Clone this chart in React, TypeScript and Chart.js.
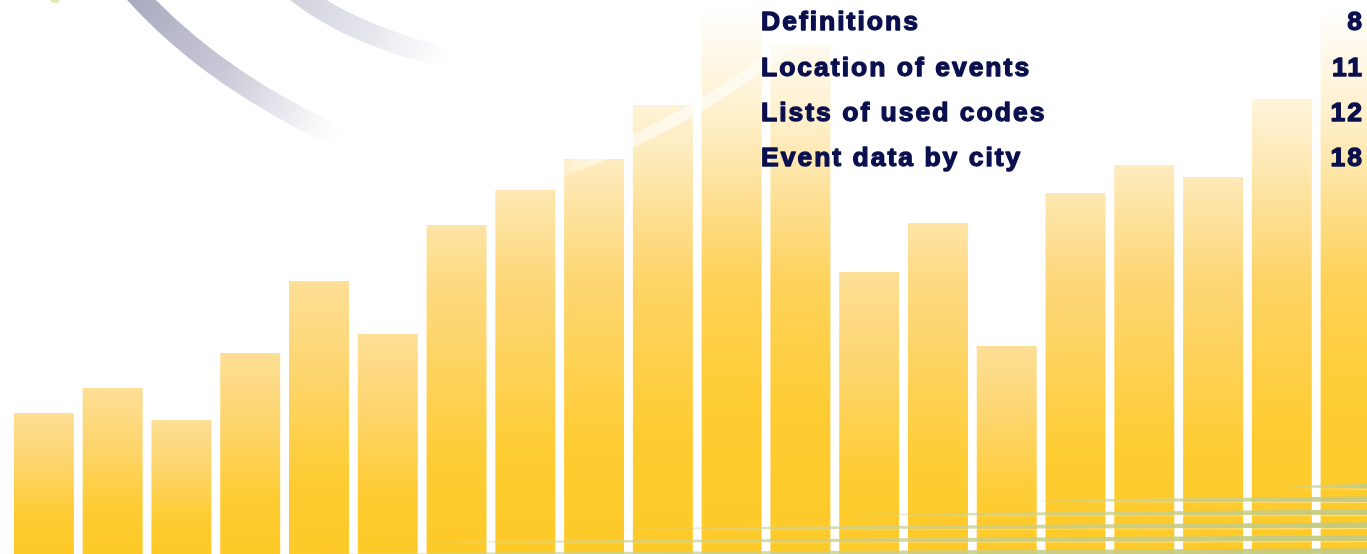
import React, { useEffect, useRef } from "react";
import { Chart, registerables } from "chart.js";

Chart.register(...registerables);

const categories = [
  "1", "2", "3", "4", "5", "6", "7", "8", "9", "10",
  "11", "12", "13", "14", "15", "16", "17", "18", "19", "20",
];
const barHeights = [
  141, 166, 134, 201, 273, 220, 329, 364, 395, 449,
  539, 509, 282, 331, 208, 361, 389, 377, 455, 539,
];
const tocTitles = ["Definitions", "Location of events", "Lists of used codes", "Event data by city"];
const tocPages = ["8", "11", "12", "18"];

const CANVAS_W = 1385;
const CANVAS_H = 554;

function drawBand(
  ctx: CanvasRenderingContext2D,
  p0: [number, number],
  c: [number, number],
  p1: [number, number],
  width: number,
  stops: [number, string][]
) {
  const g = ctx.createLinearGradient(p0[0], p0[1], p1[0], p1[1]);
  stops.forEach(([o, col]) => g.addColorStop(o, col));
  ctx.save();
  ctx.strokeStyle = g;
  ctx.lineWidth = width;
  ctx.lineCap = "butt";
  ctx.beginPath();
  ctx.moveTo(p0[0], p0[1]);
  ctx.quadraticCurveTo(c[0], c[1], p1[0], p1[1]);
  ctx.stroke();
  ctx.restore();
}

const decorPlugin = {
  id: "decor",
  afterDatasetsDraw(chart: any) {
    const ctx: CanvasRenderingContext2D = chart.ctx;
    // white fade over the upper region
    ctx.save();
    const wg = ctx.createLinearGradient(0, 0, 0, 280);
    wg.addColorStop(0, "rgba(255,255,255,1)");
    wg.addColorStop(0.1, "rgba(255,255,255,0.9)");
    wg.addColorStop(0.4, "rgba(255,255,255,0.6)");
    wg.addColorStop(0.75, "rgba(255,255,255,0.2)");
    wg.addColorStop(1, "rgba(255,255,255,0)");
    ctx.fillStyle = wg;
    ctx.fillRect(0, 0, CANVAS_W, 280);
    ctx.restore();

    // grey arcs
    drawBand(ctx, [134, -8], [213, 80], [345, 140], 21, [
      [0, "rgba(170,170,192,1)"],
      [0.45, "rgba(196,196,212,0.95)"],
      [0.8, "rgba(234,234,240,0.8)"],
      [1, "rgba(255,255,255,0)"],
    ]);
    drawBand(ctx, [297, -8], [350, 35], [455, 60], 21, [
      [0, "rgba(210,210,222,1)"],
      [0.5, "rgba(228,228,236,0.9)"],
      [0.85, "rgba(246,246,249,0.6)"],
      [1, "rgba(255,255,255,0)"],
    ]);
    // small yellow-green spot
    ctx.save();
    ctx.fillStyle = "rgba(225,232,175,0.9)";
    ctx.beginPath();
    ctx.ellipse(55, 0, 5, 3, 0, 0, Math.PI * 2);
    ctx.fill();
    ctx.restore();

    // white translucent arc across tall bars
    drawBand(ctx, [540, 178], [685, 130], [800, 35], 12, [
      [0, "rgba(255,255,255,0)"],
      [0.2, "rgba(255,255,255,0.55)"],
      [0.7, "rgba(255,255,255,0.6)"],
      [1, "rgba(255,255,255,0.3)"],
    ]);

    // green lines near bottom right
    const lines: [number, number, number][] = [
      // [startX, yAtRight, yAtStart]
      [270, 551, 554],
      [390, 538, 542],
      [610, 525, 528.5],
      [850, 512, 514.5],
      [1020, 499, 500.5],
      [1285, 486, 486.5],
    ];
    const right = CANVAS_W;
    lines.forEach(([sx, yr, ys]) => {
      ctx.save();
      const g = ctx.createLinearGradient(sx, 0, right, 0);
      g.addColorStop(0, "rgba(205,210,150,0)");
      g.addColorStop(0.2, "rgba(205,210,150,0.7)");
      g.addColorStop(1, "rgba(196,202,126,1)");
      ctx.fillStyle = g;
      const tr = 5.5;
      ctx.beginPath();
      ctx.moveTo(sx, ys - 0.5);
      ctx.lineTo(right, yr - tr / 2);
      ctx.lineTo(right, yr + tr / 2);
      ctx.lineTo(sx, ys + 1);
      ctx.closePath();
      ctx.fill();
      // thin white highlight beneath
      const g2 = ctx.createLinearGradient(sx, 0, right, 0);
      g2.addColorStop(0, "rgba(255,255,255,0)");
      g2.addColorStop(1, "rgba(255,255,255,0.45)");
      ctx.strokeStyle = g2;
      ctx.lineWidth = 1;
      ctx.beginPath();
      ctx.moveTo(sx, ys + 1.8);
      ctx.lineTo(right, yr + tr / 2 + 0.8);
      ctx.stroke();
      ctx.restore();
    });

    // table of contents
    ctx.save();
    ctx.font = "bold 26.5px 'Liberation Sans', Arial, sans-serif";
    (ctx as any).letterSpacing = "2px";
    ctx.fillStyle = "#0A0F4D";
    ctx.strokeStyle = "#0A0F4D";
    ctx.lineWidth = 1.3;
    ctx.lineJoin = "round";
    ctx.textBaseline = "alphabetic";
    const baselines = [30, 76, 121, 166];
    tocTitles.forEach((t, i) => {
      ctx.textAlign = "left";
      ctx.fillText(t, 761, baselines[i]);
      ctx.strokeText(t, 761, baselines[i]);
      ctx.textAlign = "right";
      ctx.fillText(tocPages[i], 1364, baselines[i]);
      ctx.strokeText(tocPages[i], 1364, baselines[i]);
    });
    ctx.restore();
  },
};

function barGradient(context: any) {
  const chart = context.chart;
  const area = chart.chartArea;
  if (!area) return "#FECB2B";
  const yScale = chart.scales.y;
  const v = context.raw as number;
  const top = yScale.getPixelForValue(v);
  const bottom = yScale.getPixelForValue(0);
  const g = chart.ctx.createLinearGradient(0, top, 0, bottom);
  g.addColorStop(0, "#FDDF96");
  g.addColorStop(0.35, "#FDD56D");
  g.addColorStop(0.72, "#FECC33");
  g.addColorStop(1, "#FECA28");
  return g;
}

export default function App() {
  const ref = useRef<HTMLCanvasElement | null>(null);
  useEffect(() => {
    document.body.style.margin = "0";
    document.body.style.overflow = "hidden";
    const canvas = ref.current;
    if (!canvas) return;
    const chart = new Chart(canvas, {
      type: "bar",
      data: {
        labels: categories,
        datasets: [
          {
            data: barHeights,
            backgroundColor: barGradient as any,
            borderWidth: 0,
            barPercentage: 0.872,
            categoryPercentage: 1,
          },
        ],
      },
      options: {
        animation: false,
        responsive: false,
        maintainAspectRatio: false,
        devicePixelRatio: 1,
        layout: { padding: { left: 9.5, right: 0, top: 0, bottom: 0 } },
        plugins: {
          legend: { display: false },
          tooltip: { enabled: false },
        },
        scales: {
          x: { display: false },
          y: { display: false, min: 0, max: 554 },
        },
      },
      plugins: [decorPlugin],
    });
    return () => chart.destroy();
  }, []);

  return (
    <div
      style={{
        position: "fixed",
        left: 0,
        top: 0,
        width: 1367,
        height: 554,
        overflow: "hidden",
        background: "#ffffff",
      }}
    >
      <canvas
        ref={ref}
        width={CANVAS_W}
        height={CANVAS_H}
        style={{ display: "block", width: CANVAS_W, height: CANVAS_H }}
      />
    </div>
  );
}
